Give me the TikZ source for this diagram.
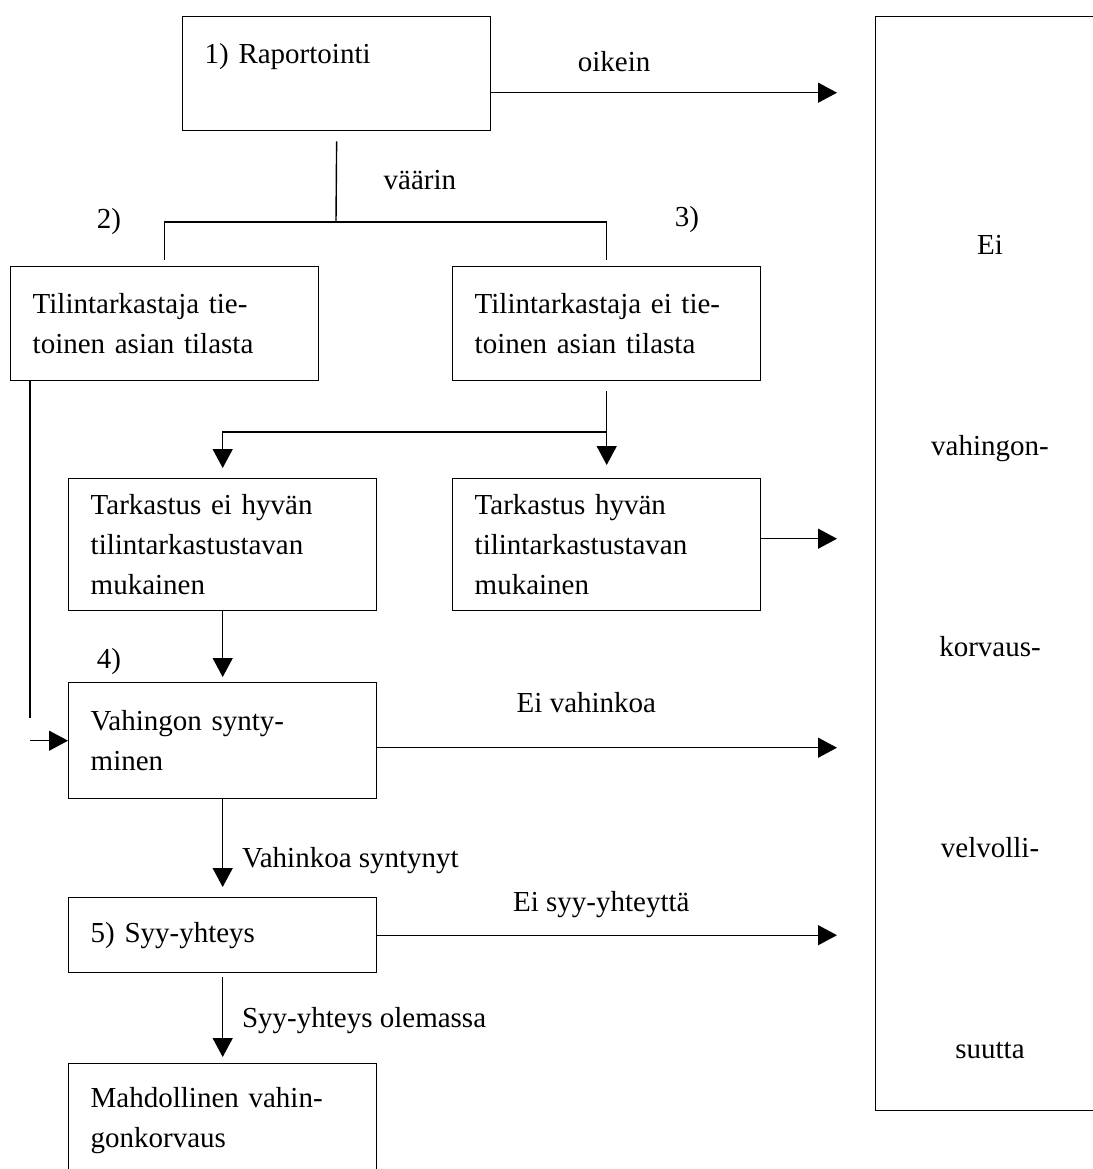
\documentclass[tikz,border=0pt]{standalone}
\usepackage{fontspec}
\setmainfont{Liberation Serif}
\usetikzlibrary{arrows.meta}

\begin{document}
\begin{tikzpicture}[x=0.5pt, y=-0.5pt, line width=0.7pt,
    font=\fontsize{14.5}{20}\selectfont,
    box/.style={draw, anchor=north west, align=left, text width=132pt,
      inner xsep=11pt, inner ysep=3pt},
    arr/.style={-{Triangle[length=9.5pt, width=10pt]}},
    num/.style={inner sep=0pt}]
  \useasboundingbox (0,0) rectangle (1093,1169);

  % laatikot
  \node[box, minimum height=57pt] (rap) at (182,16) {1) Raportointi\\~};
  \node[box, minimum height=57pt] (tiet) at (10,266) {Tilintarkastaja tie-\\toinen asian tilasta};
  \node[box, minimum height=57pt] (eitiet) at (452,266) {Tilintarkastaja ei tie-\\toinen asian tilasta};
  \node[box, minimum height=66pt] (eihyva) at (68,478) {Tarkastus ei hyvän\\tilintarkastustavan\\mukainen};
  \node[box, minimum height=66pt] (hyva) at (452,478) {Tarkastus hyvän\\tilintarkastustavan\\mukainen};
  \node[box, minimum height=58pt] (synty) at (68,682) {Vahingon synty-\\minen};
  \node[box, minimum height=37.5pt] (syy) at (68,897) {5) Syy-yhteys};
  \node[box, minimum height=57pt] (mahd) at (68,1063) {Mahdollinen vahin-\\gonkorvaus};

  % oikea laatikko
  \node[draw, anchor=north west, minimum width=115pt, minimum height=547pt] (eivk) at (875,16) {};
  \node[align=center, font=\fontsize{14.5}{100.4}\selectfont] (eivktxt) at (990,647)
    {Ei\\vahingon-\\korvaus-\\velvolli-\\suutta};

  % numerot
  \node[num] (n2) at (109,222) {2)};
  \node[num] (n3) at (687,220) {3)};
  \node[num] (n4) at (109,662) {4)};

  \coordinate (haara) at (336,222);
  \coordinate (jako) at (606,432);
  \coordinate (vasen) at (30,718);

  % yhteydet
  \draw[shorten <=5pt] (rap.south) -- node[right=20pt, pos=0.54] {väärin} (haara);
  \draw[shorten <=3pt, shorten >=3pt] (tiet.north) |- (haara) -| (eitiet.north);
  \draw[arr, shorten <=5pt, shorten >=6.5pt] (eitiet.south) -- (hyva.north);
  \draw[arr, shorten >=5pt] (jako) -| (eihyva.north);
  \draw ([xshift=10pt]tiet.south west) -- (vasen);
  \draw[arr] ([xshift=-19pt]synty.west) -- (synty.west);

  \path[arr]
    (eihyva) edge[shorten >=2.5pt] (synty)
    (synty) edge[shorten >=5pt] node[right=6pt, pos=0.63] {Vahinkoa syntynyt} (syy)
    (syy) edge[shorten <=2pt, shorten >=3pt] node[right=6pt, pos=0.53] {Syy-yhteys olemassa} (mahd);

  \draw[arr, shorten >=19pt] ([yshift=-9.5pt]rap.east) -- node[above=7pt, pos=0.32] {oikein}
    ([yshift=-9.5pt]rap.east -| eivk.west);
  \draw[arr, shorten >=19pt] ([yshift=3pt]hyva.east) -- ([yshift=3pt]hyva.east -| eivk.west);
  \draw[arr, shorten >=19pt] ([yshift=-3.5pt]synty.east) -- node[above=14pt, pos=0.42] {Ei vahinkoa}
    ([yshift=-3.5pt]synty.east -| eivk.west);
  \draw[arr, shorten >=19pt] (syy.east) -- node[above=5pt, pos=0.45] {Ei syy-yhteyttä}
    (syy.east -| eivk.west);
\end{tikzpicture}
\end{document}
